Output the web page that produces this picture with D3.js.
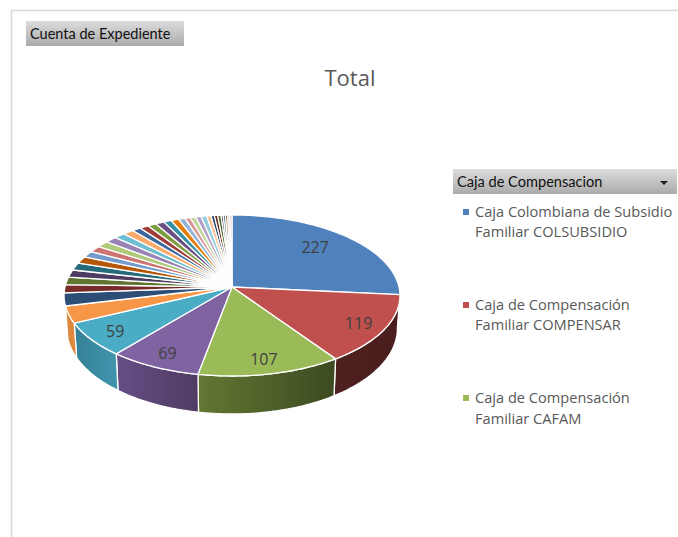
<!DOCTYPE html>
<html>
<head>
<meta charset="utf-8">
<script src="https://cdn.jsdelivr.net/npm/d3@7/dist/d3.min.js"></script>
<style>
  html, body { margin: 0; padding: 0; background: #fff; }
  svg { display: block; }
</style>
</head>
<body>
<svg id="chart" width="678" height="537"></svg>
<script>
// Number of files per compensation fund, clockwise from twelve o'clock.
const sliceValues = [227, 119, 107, 69, 59, 29, 22, 14, 13, 13, 13, 12, 11, 11, 11, 11, 10, 10,
  8, 8, 8, 8, 7, 7, 6, 5, 5, 5, 5, 4, 3, 3, 3, 2, 2, 2, 2, 2];
const legendNames = [
  ["Caja Colombiana de Subsidio", "Familiar COLSUBSIDIO"],
  ["Caja de Compensación", "Familiar COMPENSAR"],
  ["Caja de Compensación", "Familiar CAFAM"]
];
const chartTitle = "Total";
const filterLabel = "Cuenta de Expediente";
const legendTitle = "Caja de Compensacion";

// Office-style theme cycle: six accents, then shade variations of the same six.
const themeColors = [
  "#4F81BD", "#C0504D", "#9BBB59", "#8064A2", "#4BACC6", "#F79646",
  "#2C4D75", "#772C2A", "#5F7530", "#4D3B62", "#276A7C", "#B65708",
  "#729ACA", "#CD7371", "#AFC97A", "#9983B5", "#6FBDD1", "#F9AB6B",
  "#3A679C", "#9E3B38", "#7E9C40", "#6A5084", "#358EA6", "#E37D0C",
  "#95B3D7", "#D99694", "#C3D69B", "#B2A2C7", "#93CDDD", "#FAC090",
  "#254061", "#632523", "#4F6228", "#403152", "#215968", "#984807",
  "#B9CDE5", "#E6B9B8", "#D7E4BD", "#CCC1DA", "#B7DEE8", "#FCD5B5"
];
// Side wall shading (left, right) for the slices that face the viewer.
const wallShades = {
  1: ["#4E2020", "#4A1D1D"],
  2: ["#637833", "#3C4A20"],
  3: ["#654E85", "#4F3B62"],
  4: ["#358197", "#4096AE"],
  5: ["#D9853A", "#E08A3C"]
};

const svg = d3.select("#chart");
const defs = svg.append("defs");

// Perspective projection of the tilted disc; u points right, v points to the back.
const apex = { x: 232, y: 287 };
const spreadX = 167, spreadY = 79.6, tilt = 0.1056;
const baseShrink = 0.985;
const project = (t, r) => {
  const u = r * Math.sin(t), v = r * Math.cos(t), w = 1 + tilt * v;
  return [apex.x + spreadX * u / w, apex.y - spreadY * v / w];
};
const projectBase = t => {
  const [x, y] = project(t, 1);
  return [apex.x + (x - apex.x) * baseShrink, y + 32 - 6 * Math.cos(t)];
};

const arcs = d3.pie().sort(null).value(d => d)(sliceValues);
const line = d3.line();
const arcSamples = (a, b) => d3.range(0, 1.0001, 1 / Math.max(2, Math.ceil((b - a) / 0.02)))
  .map(f => a + (b - a) * f);

// Side walls sit behind the top face.
const walls = svg.append("g");
arcs.forEach((a, i) => {
  if (!wallShades[i]) return;
  const lo = Math.max(a.startAngle, Math.PI * 0.52), hi = a.endAngle;
  const samples = arcSamples(lo, hi);
  const upper = samples.map(t => project(t, 1));
  const lower = samples.slice().reverse().map(projectBase);
  const id = "wall" + i;
  const grad = defs.append("linearGradient").attr("id", id);
  grad.append("stop").attr("offset", "0%").attr("stop-color", wallShades[i][0]);
  grad.append("stop").attr("offset", "100%").attr("stop-color", wallShades[i][1]);
  walls.append("path")
    .attr("d", line(upper.concat(lower)) + "Z")
    .attr("fill", `url(#${id})`)
    .attr("stroke", "#fff").attr("stroke-width", 1.3).attr("stroke-linejoin", "round");
});

// Top face of the pie.
svg.append("g").selectAll("path").data(arcs).join("path")
  .attr("d", a => line([[apex.x, apex.y]].concat(arcSamples(a.startAngle, a.endAngle).map(t => project(t, 1)))) + "Z")
  .attr("fill", (a, i) => themeColors[i % themeColors.length])
  .attr("stroke", "#fff").attr("stroke-width", 1.3).attr("stroke-linejoin", "miter");

// Value labels on the five largest slices; the biggest slice keeps its label further in.
const labelAt = (a, i) => {
  const mid = (a.startAngle + a.endAngle) / 2;
  return i === 0 ? project(mid * 0.94, 0.745) : project(mid, 0.84);
};
svg.append("g").selectAll("text").data(arcs.slice(0, 5)).join("text")
  .attr("x", (a, i) => labelAt(a, i)[0])
  .attr("y", (a, i) => labelAt(a, i)[1] + 6)
  .attr("text-anchor", "middle")
  .attr("font-family", "'Open Sans', sans-serif").attr("font-size", 16).attr("fill", "#404040")
  .text(a => a.value);

// Outer frame, top and left edges only.
svg.append("path").attr("d", "M11.5,537V10.5H678").attr("fill", "none")
  .attr("stroke", "#D9D9D9").attr("stroke-width", 1.6);

// Grey field buttons.
const buttonFill = defs.append("linearGradient").attr("id", "buttonFill").attr("x2", 0).attr("y2", 1);
buttonFill.append("stop").attr("offset", "0%").attr("stop-color", "#DCDCDC");
buttonFill.append("stop").attr("offset", "100%").attr("stop-color", "#ABABAB");

svg.append("rect").attr("x", 26).attr("y", 21).attr("width", 158).attr("height", 25).attr("fill", "url(#buttonFill)");
svg.append("text").attr("x", 30).attr("y", 39)
  .attr("font-family", "Lato, sans-serif").attr("font-size", 14.5).attr("fill", "#111").text(filterLabel);

svg.append("text").attr("x", 350).attr("y", 86).attr("text-anchor", "middle")
  .attr("font-family", "'Open Sans', sans-serif").attr("font-size", 22).attr("fill", "#595959").text(chartTitle);

svg.append("rect").attr("x", 453).attr("y", 169).attr("width", 224).attr("height", 25).attr("fill", "url(#buttonFill)");
svg.append("text").attr("x", 457).attr("y", 187)
  .attr("font-family", "Lato, sans-serif").attr("font-size", 14.6).attr("fill", "#111").text(legendTitle);
svg.append("path").attr("d", d3.line()([[660, 181], [668, 181], [664, 185]]) + "Z").attr("fill", "#222");

// Legend: first three entries only, wrapped onto two lines each.
const legendStep = 93.3;
legendNames.forEach((lines, i) => {
  const top = 216.5 + i * legendStep;
  svg.append("rect").attr("x", 463).attr("y", Math.round(top - 8)).attr("width", 6).attr("height", 6)
    .attr("fill", themeColors[i]);
  lines.forEach((txt, j) => {
    svg.append("text").attr("x", 475).attr("y", top + j * 20.5)
      .attr("font-family", "'Open Sans', sans-serif").attr("font-size", 14.6).attr("fill", "#595959").text(txt);
  });
});
</script>
</body>
</html>
